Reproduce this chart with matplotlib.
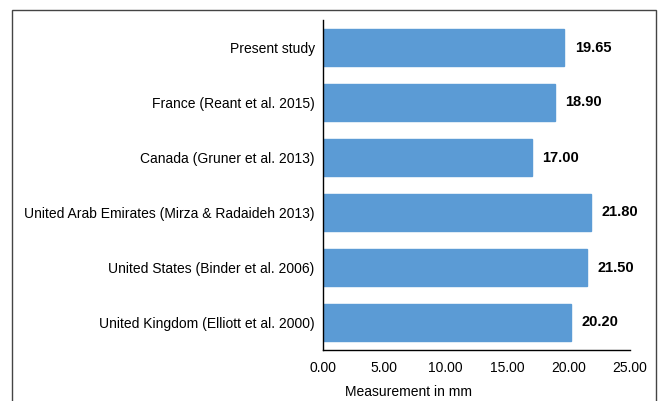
import matplotlib
matplotlib.use("Agg")
import matplotlib.pyplot as plt
from matplotlib.patches import Rectangle

categories = [
    "Present study",
    "France (Reant et al. 2015)",
    "Canada (Gruner et al. 2013)",
    "United Arab Emirates (Mirza & Radaideh 2013)",
    "United States (Binder et al. 2006)",
    "United Kingdom (Elliott et al. 2000)",
]
values = [19.65, 18.90, 17.00, 21.80, 21.50, 20.20]
xticks = [0, 5, 10, 15, 20, 25]

plt.rcParams['font.family'] = ['Liberation Sans', 'DejaVu Sans']
plt.rcParams['font.size'] = 10

fig = plt.figure(figsize=(6.61, 4.01), dpi=100)
W, H = 661, 401
ax = fig.add_axes([323 / W, 1 - 350 / H, (630 - 323) / W, (350 - 20) / H])

ypos = list(range(len(categories)))
ax.barh(ypos, values, height=0.66, color="#5B9BD5", edgecolor="#5B9BD5")
ax.set_ylim(len(categories) - 0.5, -0.5)
ax.set_xlim(0, 25)
ax.set_yticks(ypos)
ax.set_yticklabels(categories)
ax.set_xticks(xticks)
ax.set_xticklabels([f"{t:.2f}" for t in xticks])
ax.tick_params(length=0, pad=6)
ax.tick_params(axis='x', pad=8)
for s in ["top", "right"]:
    ax.spines[s].set_visible(False)
for s in ["left", "bottom"]:
    ax.spines[s].set_color("black")
    ax.spines[s].set_linewidth(1.0)
for y, v in zip(ypos, values):
    ax.annotate(f"{v:.2f}", (v, y), xytext=(7.5, 0), textcoords="offset points",
                va="center", ha="left", fontweight="bold", fontsize=10.5)
ax.set_xlabel("Measurement in mm", labelpad=6)
ax.xaxis.set_label_coords(0.277, -0.105)

fig.patches.append(Rectangle((12 / W, -0.05), (656 - 12) / W, 1 - 10 / H + 0.05,
                             transform=fig.transFigure, fill=False,
                             edgecolor="#444444", linewidth=1.0))

fig.savefig("out.png", dpi=100)
